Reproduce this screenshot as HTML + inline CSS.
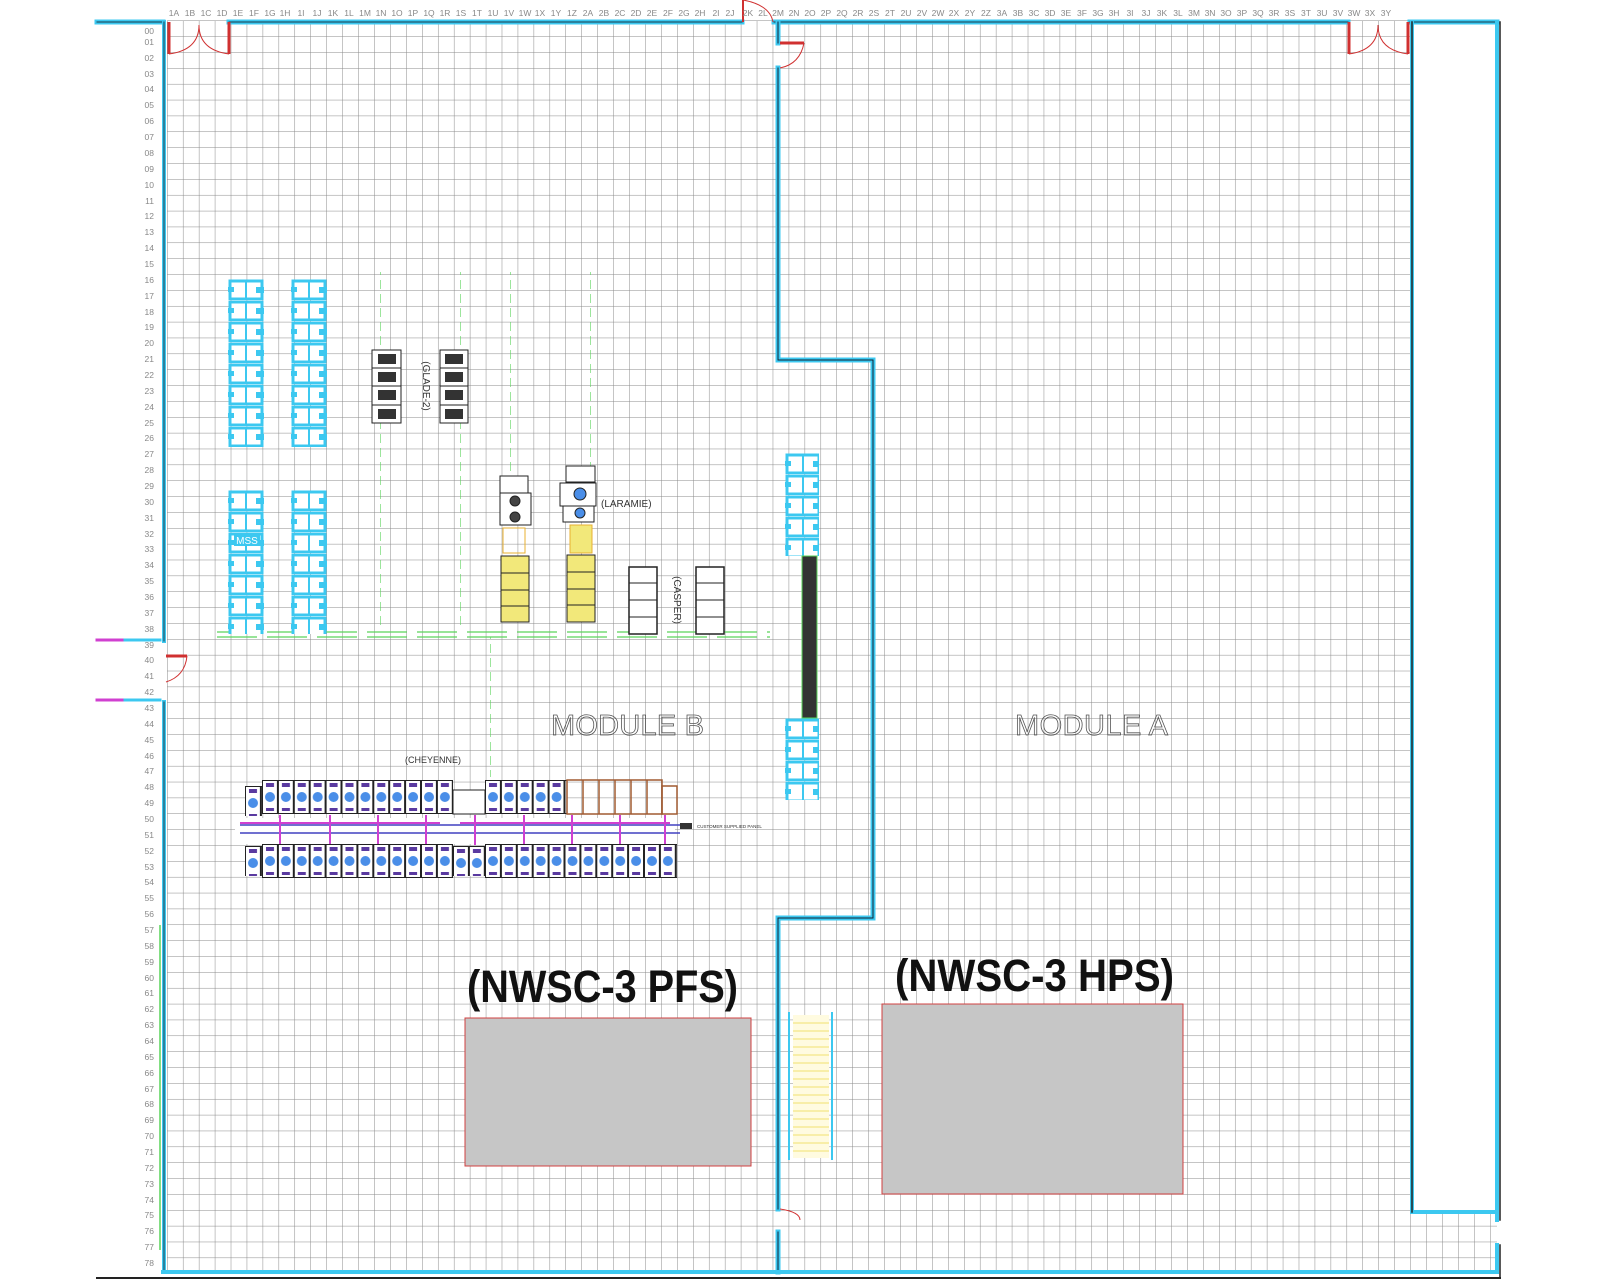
<!DOCTYPE html>
<html><head><meta charset="utf-8"><style>
html,body{margin:0;padding:0;background:#fff;}
svg{display:block;}
text{font-family:"Liberation Sans",sans-serif;}
</style></head><body>
<svg width="1600" height="1280" viewBox="0 0 1600 1280" xmlns="http://www.w3.org/2000/svg">
<defs>
<pattern id="grid" x="167" y="20.5" width="15.94" height="15.86" patternUnits="userSpaceOnUse">
<path d="M0 0V15.86M0 0H15.94" stroke="#8a8a8a" stroke-width="1" fill="none"/>
</pattern>
<pattern id="cy" x="0" y="0" width="36" height="21" patternUnits="userSpaceOnUse">
<rect x="2" y="2" width="32" height="18" fill="#fff" stroke="#3cc8f0" stroke-width="3"/>
<line x1="18" y1="2" x2="18" y2="20" stroke="#3cc8f0" stroke-width="2"/>
<rect x="0" y="8" width="6" height="5" fill="#3cc8f0"/><rect x="28" y="8" width="8" height="6" fill="#3cc8f0"/>
</pattern>
<pattern id="rk" x="0" y="0" width="15.9" height="34" patternUnits="userSpaceOnUse">
<rect x="0.5" y="0.5" width="14.9" height="33" fill="#fff" stroke="#222" stroke-width="1"/>
<rect x="4" y="3" width="8" height="4" fill="#5a3aa0"/>
<circle cx="8" cy="17" r="5" fill="#4a8ee8"/>
<rect x="4" y="28" width="8" height="3" fill="#5a3aa0"/>
</pattern>
<pattern id="gr" x="0" y="0" width="10" height="14" patternUnits="userSpaceOnUse">
<line x1="0" y1="0" x2="0" y2="9" stroke="#5ad35a" stroke-width="1.2"/>
</pattern>
</defs>

<rect x="167" y="20.5" width="1330" height="1252" fill="url(#grid)"/>
<rect x="1413" y="22" width="84" height="1190" fill="#fff"/>

<g fill="none" stroke-linecap="square">
<path d="M97 22H163 M229 22H742 M774 22H1348 M1410 22H1497" stroke="#3cc8f0" stroke-width="5"/>
<path d="M97 22H163 M229 22H742 M774 22H1348 M1410 22H1497" stroke="#1a3a4a" stroke-width="1"/>
<path d="M164 22V641 M164 702V1272" stroke="#3cc8f0" stroke-width="4"/>
<path d="M164 22V641 M164 702V1272" stroke="#1a3a4a" stroke-width="1"/>
<path d="M97 640H160 M97 700H160" stroke="#d040d0" stroke-width="3"/>
<path d="M125 640H160 M125 700H160" stroke="#3cc8f0" stroke-width="3"/>
<path d="M778 22V43 M778 68V360H873V918H778V1209 M778 1232V1272" stroke="#3cc8f0" stroke-width="5"/>
<path d="M778 22V43 M778 68V360H873V918H778V1209 M778 1232V1272" stroke="#123" stroke-width="1"/>
<path d="M1412 22V1212H1497 M1497 22V1220 M1497 1245V1272" stroke="#3cc8f0" stroke-width="4"/>
<path d="M1412 22V1212 M1500 22V1220 M1500 1245V1278" stroke="#222" stroke-width="1.5"/>
<path d="M163 1272H1497" stroke="#3cc8f0" stroke-width="4"/>
<path d="M97 1278H1500" stroke="#222" stroke-width="2"/>
</g>

<g fill="none" stroke="#d03030">
<path d="M169 22V54 M229 22V54" stroke-width="3"/>
<path d="M169 54Q199 50 199 25 Q199 50 229 54" stroke-width="1"/>
<path d="M1349 22V54 M1408 22V54" stroke-width="3"/>
<path d="M1349 54Q1378 50 1378 25 Q1378 50 1408 54" stroke-width="1"/>
<path d="M743 0V22" stroke-width="2"/><path d="M743 0Q770 5 773 22" stroke-width="1"/>
<path d="M780 43H804" stroke-width="3"/><path d="M804 43Q800 64 780 68" stroke-width="1"/>
<path d="M166 656H187" stroke-width="3"/><path d="M187 656Q185 676 166 682" stroke-width="1"/>
<path d="M780 1209Q800 1212 800 1220" stroke-width="1"/>
</g>

<g font-size="8.5" fill="#888" text-anchor="middle">
<text x="174" y="16">1A</text><text x="190" y="16">1B</text><text x="206" y="16">1C</text><text x="222" y="16">1D</text><text x="238" y="16">1E</text><text x="254" y="16">1F</text><text x="270" y="16">1G</text><text x="285" y="16">1H</text><text x="301" y="16">1I</text><text x="317" y="16">1J</text><text x="333" y="16">1K</text><text x="349" y="16">1L</text><text x="365" y="16">1M</text><text x="381" y="16">1N</text><text x="397" y="16">1O</text><text x="413" y="16">1P</text><text x="429" y="16">1Q</text><text x="445" y="16">1R</text><text x="461" y="16">1S</text><text x="477" y="16">1T</text><text x="493" y="16">1U</text><text x="509" y="16">1V</text><text x="525" y="16">1W</text><text x="540" y="16">1X</text><text x="556" y="16">1Y</text><text x="572" y="16">1Z</text><text x="588" y="16">2A</text><text x="604" y="16">2B</text><text x="620" y="16">2C</text><text x="636" y="16">2D</text><text x="652" y="16">2E</text><text x="668" y="16">2F</text><text x="684" y="16">2G</text><text x="700" y="16">2H</text><text x="716" y="16">2I</text><text x="730" y="16">2J</text><text x="748" y="16">2K</text><text x="763" y="16">2L</text><text x="778" y="16">2M</text><text x="794" y="16">2N</text><text x="810" y="16">2O</text><text x="826" y="16">2P</text><text x="842" y="16">2Q</text><text x="858" y="16">2R</text><text x="874" y="16">2S</text><text x="890" y="16">2T</text><text x="906" y="16">2U</text><text x="922" y="16">2V</text><text x="938" y="16">2W</text><text x="954" y="16">2X</text><text x="970" y="16">2Y</text><text x="986" y="16">2Z</text><text x="1002" y="16">3A</text><text x="1018" y="16">3B</text><text x="1034" y="16">3C</text><text x="1050" y="16">3D</text><text x="1066" y="16">3E</text><text x="1082" y="16">3F</text><text x="1098" y="16">3G</text><text x="1114" y="16">3H</text><text x="1130" y="16">3I</text><text x="1146" y="16">3J</text><text x="1162" y="16">3K</text><text x="1178" y="16">3L</text><text x="1194" y="16">3M</text><text x="1210" y="16">3N</text><text x="1226" y="16">3O</text><text x="1242" y="16">3P</text><text x="1258" y="16">3Q</text><text x="1274" y="16">3R</text><text x="1290" y="16">3S</text><text x="1306" y="16">3T</text><text x="1322" y="16">3U</text><text x="1338" y="16">3V</text><text x="1354" y="16">3W</text><text x="1370" y="16">3X</text><text x="1386" y="16">3Y</text>
</g>
<g font-size="8.5" fill="#888" text-anchor="end">
<text x="154" y="34">00</text><text x="154" y="45">01</text><text x="154" y="61">02</text><text x="154" y="77">03</text><text x="154" y="92">04</text><text x="154" y="108">05</text><text x="154" y="124">06</text><text x="154" y="140">07</text><text x="154" y="156">08</text><text x="154" y="172">09</text><text x="154" y="188">10</text><text x="154" y="204">11</text><text x="154" y="219">12</text><text x="154" y="235">13</text><text x="154" y="251">14</text><text x="154" y="267">15</text><text x="154" y="283">16</text><text x="154" y="299">17</text><text x="154" y="315">18</text><text x="154" y="330">19</text><text x="154" y="346">20</text><text x="154" y="362">21</text><text x="154" y="378">22</text><text x="154" y="394">23</text><text x="154" y="410">24</text><text x="154" y="426">25</text><text x="154" y="441">26</text><text x="154" y="457">27</text><text x="154" y="473">28</text><text x="154" y="489">29</text><text x="154" y="505">30</text><text x="154" y="521">31</text><text x="154" y="537">32</text><text x="154" y="552">33</text><text x="154" y="568">34</text><text x="154" y="584">35</text><text x="154" y="600">36</text><text x="154" y="616">37</text><text x="154" y="632">38</text><text x="154" y="648">39</text><text x="154" y="663">40</text><text x="154" y="679">41</text><text x="154" y="695">42</text><text x="154" y="711">43</text><text x="154" y="727">44</text><text x="154" y="743">45</text><text x="154" y="759">46</text><text x="154" y="774">47</text><text x="154" y="790">48</text><text x="154" y="806">49</text><text x="154" y="822">50</text><text x="154" y="838">51</text><text x="154" y="854">52</text><text x="154" y="870">53</text><text x="154" y="885">54</text><text x="154" y="901">55</text><text x="154" y="917">56</text><text x="154" y="933">57</text><text x="154" y="949">58</text><text x="154" y="965">59</text><text x="154" y="981">60</text><text x="154" y="996">61</text><text x="154" y="1012">62</text><text x="154" y="1028">63</text><text x="154" y="1044">64</text><text x="154" y="1060">65</text><text x="154" y="1076">66</text><text x="154" y="1092">67</text><text x="154" y="1107">68</text><text x="154" y="1123">69</text><text x="154" y="1139">70</text><text x="154" y="1155">71</text><text x="154" y="1171">72</text><text x="154" y="1187">73</text><text x="154" y="1203">74</text><text x="154" y="1218">75</text><text x="154" y="1234">76</text><text x="154" y="1250">77</text><text x="154" y="1266">78</text>
</g>

<g>
<rect x="375" y="272" width="12" height="358" fill="url(#gr)"/>
<rect x="456" y="272" width="12" height="358" fill="url(#gr)"/>
<rect x="501" y="272" width="12" height="200" fill="url(#gr)"/>
<rect x="583" y="272" width="12" height="200" fill="url(#gr)"/>
<line x1="217" y1="632" x2="770" y2="632" stroke="#5ad35a" stroke-width="1.2" stroke-dasharray="40 10"/>
<line x1="217" y1="637" x2="770" y2="637" stroke="#5ad35a" stroke-width="1.2" stroke-dasharray="40 10"/>
<rect x="488" y="637" width="12" height="140" fill="url(#gr)"/>
<line x1="160" y1="925" x2="160" y2="1250" stroke="#5ad35a" stroke-width="1.5"/>
</g>

<!-- cyan racks -->
<g transform="translate(228,279)"><rect width="36" height="168" fill="url(#cy)"/></g>
<g transform="translate(291,279)"><rect width="36" height="168" fill="url(#cy)"/></g>
<g transform="translate(228,490)"><rect width="36" height="144" fill="url(#cy)"/></g>
<g transform="translate(291,490)"><rect width="36" height="144" fill="url(#cy)"/></g>
<rect x="234" y="534" width="26" height="12" fill="#3cc8f0"/>
<text x="247" y="544" font-size="10" fill="#fff" text-anchor="middle">MSS</text>
<g transform="translate(785,453)"><rect width="34" height="103" fill="url(#cy)"/></g>
<g transform="translate(785,718)"><rect width="34" height="82" fill="url(#cy)"/></g>
<rect x="802" y="556" width="15" height="162" fill="#333" stroke="#5ad35a" stroke-width="1"/>

<g fill="#fff" stroke="#222" stroke-width="1">
<rect x="372" y="350" width="29" height="73"/><rect x="440" y="350" width="28" height="73"/>
<line x1="372" y1="368" x2="401" y2="368"/><line x1="372" y1="386" x2="401" y2="386"/><line x1="372" y1="405" x2="401" y2="405"/>
<line x1="440" y1="368" x2="468" y2="368"/><line x1="440" y1="386" x2="468" y2="386"/><line x1="440" y1="405" x2="468" y2="405"/>
</g>
<g fill="#333"><rect x="378" y="354" width="18" height="10"/><rect x="378" y="372" width="18" height="10"/><rect x="378" y="390" width="18" height="10"/><rect x="378" y="409" width="18" height="10"/>
<rect x="445" y="354" width="18" height="10"/><rect x="445" y="372" width="18" height="10"/><rect x="445" y="390" width="18" height="10"/><rect x="445" y="409" width="18" height="10"/></g>
<text transform="translate(423,386) rotate(90)" font-size="10" fill="#333" text-anchor="middle">(GLADE-2)</text>

<g stroke="#222" stroke-width="1">
<rect x="500" y="476" width="28" height="17" fill="#fff"/>
<rect x="500" y="493" width="31" height="32" fill="#fff"/>
<circle cx="515" cy="501" r="5" fill="#444"/><circle cx="515" cy="517" r="5" fill="#444"/>
<rect x="501" y="556" width="28" height="66" fill="#f2e87a"/>
<line x1="501" y1="573" x2="529" y2="573"/><line x1="501" y1="590" x2="529" y2="590"/><line x1="501" y1="606" x2="529" y2="606"/>
<rect x="566" y="466" width="29" height="16" fill="#fff"/>
<rect x="560" y="483" width="36" height="23" fill="#fff"/>
<rect x="563" y="506" width="31" height="16" fill="#fff"/>
<circle cx="580" cy="494" r="6" fill="#4a8ee8"/><circle cx="580" cy="513" r="5" fill="#4a8ee8"/>
<rect x="567" y="555" width="28" height="67" fill="#f2e87a"/>
<line x1="567" y1="572" x2="595" y2="572"/><line x1="567" y1="589" x2="595" y2="589"/><line x1="567" y1="605" x2="595" y2="605"/>
<rect x="629" y="567" width="28" height="67" fill="#fff" stroke-width="1.5"/>
<line x1="629" y1="583" x2="657" y2="583"/><line x1="629" y1="600" x2="657" y2="600"/><line x1="629" y1="617" x2="657" y2="617"/>
<rect x="696" y="567" width="28" height="67" fill="#fff" stroke-width="1.5"/>
<line x1="696" y1="583" x2="724" y2="583"/><line x1="696" y1="600" x2="724" y2="600"/><line x1="696" y1="617" x2="724" y2="617"/>
</g>
<rect x="503" y="528" width="22" height="25" fill="none" stroke="#e8b030"/>
<rect x="570" y="525" width="22" height="28" fill="#f2e87a" stroke="#e8b030"/>
<text x="601" y="507" font-size="10" fill="#333">(LARAMIE)</text>
<text transform="translate(674,600) rotate(90)" font-size="10" fill="#333" text-anchor="middle">(CASPER)</text>

<!-- cheyenne -->
<text x="405" y="763" font-size="9" fill="#333">(CHEYENNE)</text>
<g transform="translate(245,786)"><rect width="17" height="30" fill="url(#rk)"/></g>
<g transform="translate(262,780)"><rect width="191" height="34" fill="url(#rk)"/></g>
<rect x="453" y="790" width="32" height="24" fill="#fff" stroke="#222"/>
<g transform="translate(485,780)"><rect width="82" height="34" fill="url(#rk)"/></g>
<g fill="none" stroke="#a05a30" stroke-width="1.5">
<rect x="567" y="780" width="95" height="34"/><line x1="583" y1="780" x2="583" y2="814"/><line x1="599" y1="780" x2="599" y2="814"/><line x1="615" y1="780" x2="615" y2="814"/><line x1="631" y1="780" x2="631" y2="814"/><line x1="647" y1="780" x2="647" y2="814"/>
<rect x="662" y="786" width="15" height="28"/>
</g>
<rect x="235" y="818" width="440" height="26" fill="#fff"/>
<g stroke="#4040c0" stroke-width="1.5" fill="none">
<line x1="240" y1="825" x2="680" y2="825"/><line x1="240" y1="833" x2="680" y2="833"/>
</g>
<g stroke="#d040d0" stroke-width="2">
<line x1="240" y1="823" x2="440" y2="823"/><line x1="460" y1="823" x2="670" y2="823"/>
<line x1="280" y1="815" x2="280" y2="845"/><line x1="330" y1="815" x2="330" y2="845"/><line x1="378" y1="815" x2="378" y2="845"/><line x1="426" y1="815" x2="426" y2="845"/><line x1="475" y1="815" x2="475" y2="845"/><line x1="524" y1="815" x2="524" y2="845"/><line x1="572" y1="815" x2="572" y2="845"/><line x1="620" y1="815" x2="620" y2="845"/><line x1="665" y1="815" x2="665" y2="845"/>
</g>
<rect x="680" y="823" width="12" height="6" fill="#333"/>
<text x="697" y="828" font-size="4.5" fill="#333">CUSTOMER SUPPLIED PANEL</text>
<g transform="translate(245,846)"><rect width="17" height="30" fill="url(#rk)"/></g>
<g transform="translate(262,844)"><rect width="191" height="34" fill="url(#rk)"/></g>
<g transform="translate(453,846)"><rect width="32" height="30" fill="url(#rk)"/></g>
<g transform="translate(485,844)"><rect width="192" height="34" fill="url(#rk)"/></g>

<text x="551" y="735" font-size="29" fill="none" stroke="#555" stroke-width="0.8" textLength="153" lengthAdjust="spacing">MODULE B</text>
<text x="1015" y="735" font-size="29" fill="none" stroke="#555" stroke-width="0.8" textLength="153" lengthAdjust="spacing">MODULE A</text>

<text x="467" y="1002" font-size="45" font-weight="bold" fill="#111" textLength="271" lengthAdjust="spacingAndGlyphs">(NWSC-3 PFS)</text>
<rect x="465" y="1018" width="286" height="148" fill="#c6c6c6" stroke="#d04040" stroke-width="1"/>
<text x="895" y="991" font-size="45" font-weight="bold" fill="#111" textLength="279" lengthAdjust="spacingAndGlyphs">(NWSC-3 HPS)</text>
<rect x="882" y="1004" width="301" height="190" fill="#c6c6c6" stroke="#d04040" stroke-width="1"/>

<rect x="793" y="1015" width="36" height="143" fill="#fffbe0"/>
<g stroke="#f0e070" stroke-width="1">
<path d="M793 1023H829M793 1031H829M793 1039H829M793 1047H829M793 1055H829M793 1063H829M793 1071H829M793 1079H829M793 1087H829M793 1095H829M793 1103H829M793 1111H829M793 1119H829M793 1127H829M793 1135H829M793 1143H829M793 1151H829"/>
</g>
<path d="M789 1012V1160M832 1012V1160" stroke="#3cc8f0" stroke-width="2"/>
</svg>
</body></html>
